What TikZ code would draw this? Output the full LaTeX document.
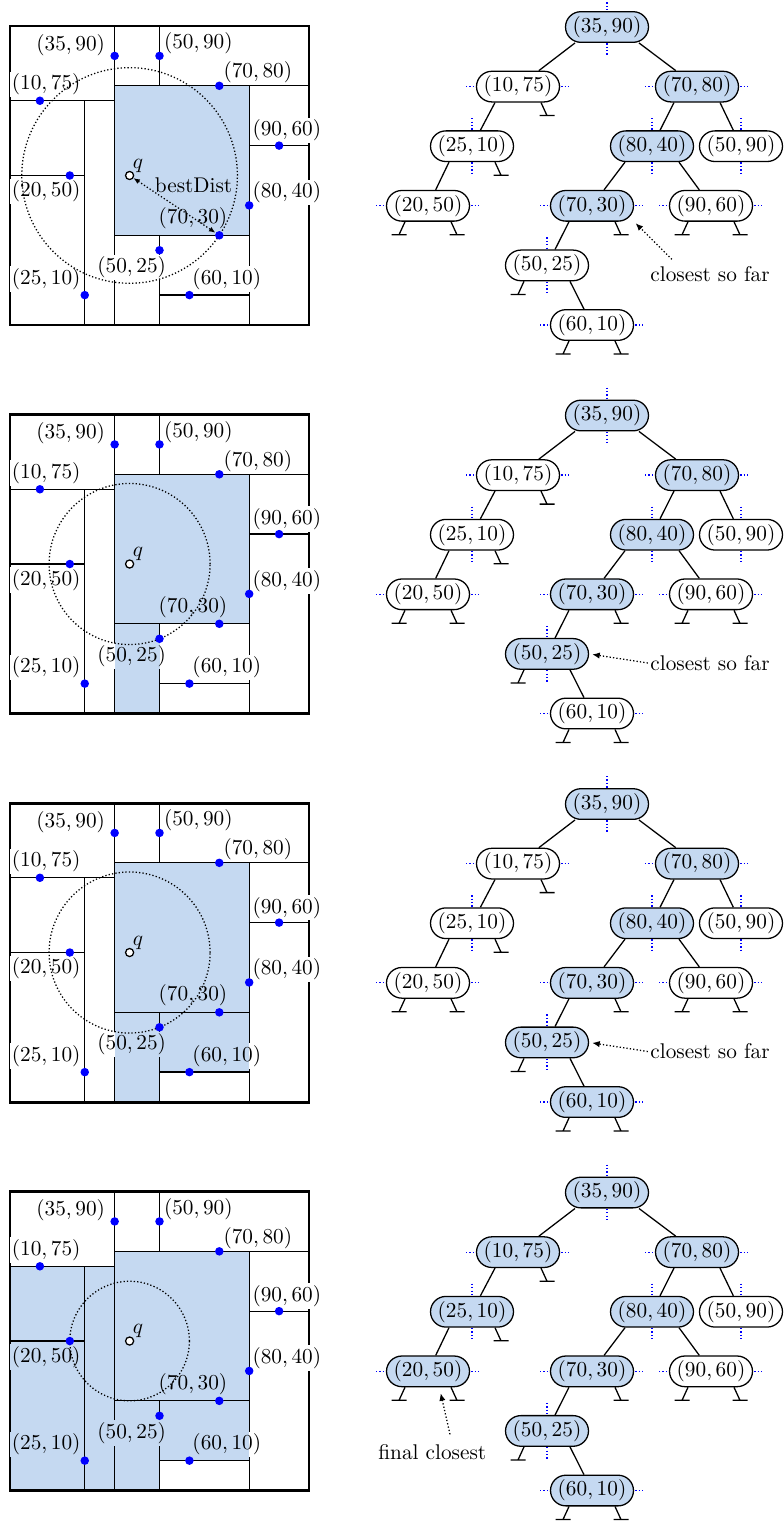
\documentclass[tikz,border=0pt]{standalone}
\usetikzlibrary{calc,arrows.meta}
\definecolor{kdblue}{RGB}{197,217,241}
\begin{document}
\begin{tikzpicture}[x=0.47pt,y=-0.47pt]
  \tikzstyle{every node}=[inner sep=1pt]
  \tikzstyle{split}=[semithick]
  \tikzstyle{pt}=[circle,fill=blue,inner sep=0pt,minimum size=4pt]
  \tikzstyle{lab}=[fill=white,inner sep=1pt]
  \tikzstyle{kd}=[draw,semithick,rounded corners=7.2pt,minimum width=39pt,
    minimum height=14.4pt,inner sep=0pt]
  \tikzstyle{cut}=[blue,semithick,densely dotted]
  \tikzstyle{hint}=[semithick,densely dotted,-{Latex[length=3.5pt,width=3pt]}]
  \useasboundingbox (0,0) rectangle (784,1522);

  \foreach \k/\r in {0/36.06, 1/26.93, 2/26.93, 3/20}
  {
    \begin{scope}[yshift=-\k*182.6pt]
      % the plane
      \begin{scope}[shift={(10,325)},x=1.4053pt,y=1.4053pt]
        \draw[split]
          (35,0) -- (35,100) (0,75) -- (35,75) (25,0) -- (25,75)
          (0,50) -- (25,50) (35,80) -- (100,80) (50,80) -- (50,100)
          (80,0) -- (80,80) (80,60) -- (100,60) (35,30) -- (80,30)
          (50,0) -- (50,30) (50,10) -- (80,10);
        \draw[line width=1.4pt] (0,0) rectangle (100,100);

        \foreach \a/\b/\lx/\ly in {35/90/20.3/93.7, 50/90/63/94.2,
          70/80/82.9/84.4, 10/75/12.1/80.5, 90/60/92.6/65, 20/50/12.1/44.6,
          80/40/92.6/44.3, 70/30/61.2/35.7, 50/25/40.7/19.2,
          25/10/12.1/15.4, 60/10/72.5/15.4}
        {
          \node[lab] (l\a\b) at (\lx,\ly) {$(\a,\b)$};
        }

        \draw[semithick,densely dotted] (40,50) circle (\r);

        \begin{scope}[blend mode=multiply]
          \fill[kdblue] (35,30) rectangle (80,80);
          \ifnum\k>0 \fill[kdblue] (35,0) rectangle (50,30); \fi
          \ifnum\k>1 \fill[kdblue] (50,10) rectangle (80,30); \fi
          \ifnum\k>2 \fill[kdblue] (0,0) rectangle (35,75); \fi
        \end{scope}

        \foreach \a/\b in {35/90, 50/90, 70/80, 10/75, 90/60, 20/50,
          80/40, 70/30, 50/25, 25/10, 60/10}
        {
          \node[pt] (d\a\b) at (\a,\b) {};
        }
        \node[circle,draw,semithick,fill=white,inner sep=0pt,
          minimum size=3.8pt] (q) at (40,50) {};
        \node (ql) at (42.8,53.2) {$q$};

        \ifnum\k=0
          \draw[semithick,densely dotted,
            {Latex[length=3pt,width=2.5pt]}-{Latex[length=3pt,width=2.5pt]}]
            (q) -- (d7030);
          \node (bd) at (61.4,46.8) {bestDist};
        \fi
      \end{scope}

      % the tree
      \foreach \a/\b/\x/\l/\v/\c in {35/90/607/0/0/x, 10/75/518/1/3/y,
        70/80/697/1/0/y, 25/10/472/2/3/x, 80/40/652/2/0/x, 50/90/741/2/9/x,
        20/50/428/3/3/y, 70/30/592/3/0/y, 90/60/711/3/9/y, 50/25/547/4/1/x,
        60/10/592/5/2/y}
      {
        \ifnum\k<\v \def\col{white}\else\def\col{kdblue}\fi
        \if\c x
          \draw[cut] (\x,27+59.6*\l-28) -- (\x,27+59.6*\l+28);
        \else
          \draw[cut] (\x-52,27+59.6*\l) -- (\x+52,27+59.6*\l);
        \fi
        \node[kd,fill=\col] (t\a\b) at (\x,27+59.6*\l) {$(\a,\b)$};
      }

      \foreach \p/\c/\o in {3590/1075/-32, 3590/7080/32, 1075/2510/-23,
        7080/8040/-23, 7080/5090/23, 2510/2050/-23, 8040/7030/-27,
        8040/9060/27, 7030/5025/-23, 5025/6010/23}
      {
        \draw[semithick] ($(t\p.south)+(\o,0)$) -- (t\c);
      }

      % empty subtrees
      \foreach \p/\s in {1075/1, 2510/1, 2050/-1, 2050/1, 7030/1, 9060/-1,
        9060/1, 5025/-1, 6010/-1, 6010/1}
      {
        \coordinate (n\p\s) at ($(t\p)+(29*\s,29)$);
        \draw[semithick]
          ($(t\p.south)+(23*\s,0)$) -- (n\p\s)
          ($(n\p\s)+(-7.5,0)$) -- ($(n\p\s)+(7.5,0)$);
      }

      \ifnum\k=0
        \node (c0) at (710,274.5) {closest so far};
        \draw[hint,shorten >=1pt] ($(c0.north west)+(24,-5)$) -- (t7030.south east);
      \fi
      \ifnum\k=1
        \node (c1) at (710,274.5) {closest so far};
        \draw[hint,shorten >=1.5pt] (c1.west) -- (t5025.east);
      \fi
      \ifnum\k=2
        \node (c2) at (710,274.5) {closest so far};
        \draw[hint,shorten >=1.5pt] (c2.west) -- (t5025.east);
      \fi
      \ifnum\k=3
        \node (c3) at (432.3,286.2) {final closest};
        \draw[hint] ($(c3.north)+(17.7,-7.2)$) -- ($(t2050.south)+(12.7,6)$);
      \fi
    \end{scope}
  }
\end{tikzpicture}
\end{document}
